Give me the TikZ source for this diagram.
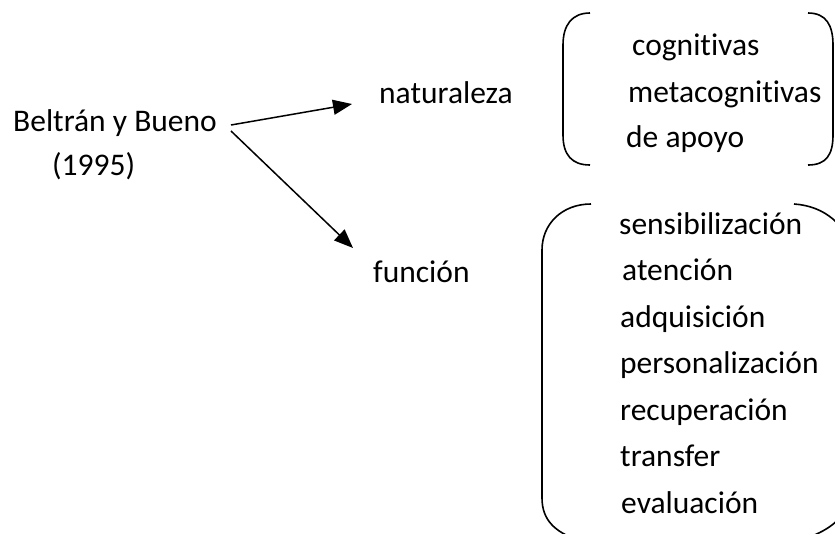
\documentclass[tikz,border=0pt]{standalone}
\usepackage{fontspec}
\setmainfont{Carlito}[Ligatures=NoCommon]
\usetikzlibrary{arrows.meta}
\begin{document}
\begin{tikzpicture}[x=1pt,y=-1pt,
  lbl/.style={inner sep=0pt,anchor=base west,font=\fontsize{31.5}{37}\selectfont},
  conn/.style={line width=1.5pt,-{Triangle[length=19pt,width=15pt]}},
  brk/.style={line width=1.6pt}]
\useasboundingbox (0,0) rectangle (835,533);
\fill[white] (0,0) rectangle (835,533);
% left texts
\node[lbl] (b1) at (13,131) {Beltrán y Bueno};
\node[lbl] (b2) at (52,175) {(1995)};
\node[lbl] (nat) at (379,103) {naturaleza};
\node[lbl] (fun) at (373,282) {función};
% top list
\node[lbl] (c1) at (632,55) {cognitivas};
\node[lbl] (c2) at (628,102) {metacognitivas};
\node[lbl] (c3) at (626,147) {de apoyo};
% bottom list
\node[lbl] (f1) at (619,234) {sensibilización};
\node[lbl] (f2) at (622,280) {atención};
\node[lbl] (f3) at (620,327) {adquisición};
\node[lbl] (f4) at (620,373) {personalización};
\node[lbl] (f5) at (620,420) {recuperación};
\node[lbl] (f6) at (620,466) {transfer};
\node[lbl] (f7) at (621,513) {evaluación};
% connectors
\coordinate (s1) at (231,125);
\coordinate (s2) at (231,131);
\coordinate (t1) at (352,104);
\coordinate (t2) at (353,248);
\draw[conn] (s1) -- (t1);
\draw[conn] (s2) -- (t2);
% top brackets
\draw[brk] (590,13) .. controls (572,13) and (563,25) .. (563,45) -- (563,135) .. controls (563,155) and (572,165) .. (590,165);
\draw[brk] (808,13) .. controls (826,13) and (833,25) .. (833,45) -- (833,135) .. controls (833,155) and (826,165) .. (808,165);
% bottom brackets (clipped at picture edge)
\begin{scope}
\clip (0,0) rectangle (835,533);
\draw[brk] (591,204) .. controls (562,204) and (542,224) .. (542,250) -- (542,498) .. controls (542,520) and (555,532) .. (578,540);
\draw[brk] (794,204) .. controls (825,206) and (848,226) .. (850,252) -- (850,495) .. controls (848,515) and (832,528) .. (812,536);
\end{scope}
\end{tikzpicture}
\end{document}
